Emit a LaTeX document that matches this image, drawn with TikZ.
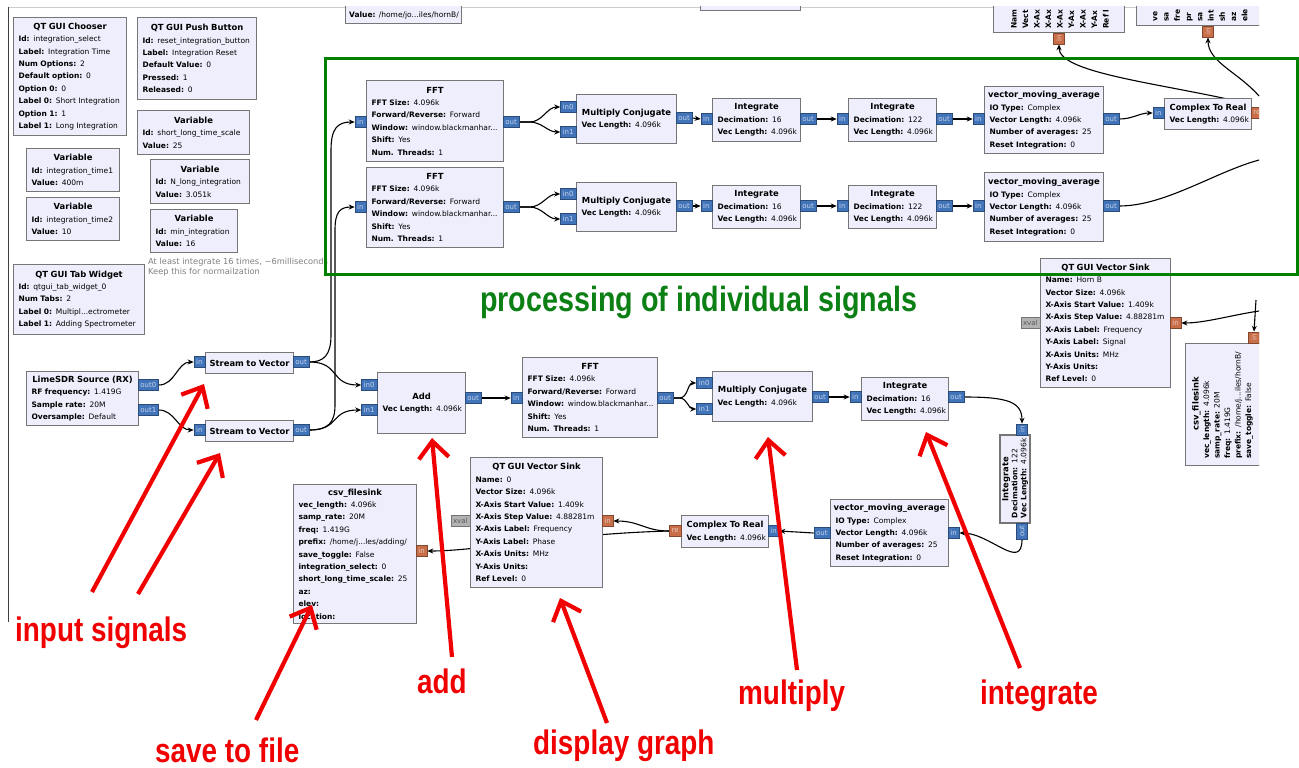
\documentclass[tikz,border=0pt]{standalone}
\usepackage{fontspec}
\setmainfont{DejaVu Sans}
\newfontfamily\notefont[FakeStretch=0.82]{Liberation Sans}
\usetikzlibrary{arrows.meta,backgrounds}

\definecolor{blkfill}{RGB}{238,238,252}
\definecolor{blkline}{RGB}{118,118,118}
\definecolor{portblue}{RGB}{66,116,186}
\definecolor{portorange}{RGB}{200,110,72}
\definecolor{portgray}{RGB}{178,178,178}
\definecolor{framegreen}{RGB}{0,130,0}
\definecolor{notegreen}{RGB}{12,128,20}
\definecolor{notered}{RGB}{240,0,0}
\definecolor{cmtgray}{RGB}{128,128,128}

\newcommand{\pfont}{\fontsize{7.5}{12.4}\selectfont}
\newcommand{\rfont}{\fontsize{7.5}{9}\selectfont}
\newcommand{\tfont}{\fontsize{8.4}{12.4}\selectfont\bfseries}
\newcommand{\ttl}[1]{\makebox[\linewidth][c]{\tfont #1}}
\newcommand{\kv}[2]{\mbox{\textbf{#1} #2}}

\pgfdeclarelayer{paper}
\pgfsetlayers{paper,background,main}

\begin{document}
\begin{tikzpicture}[x=1pt,y=-1pt,
    blk/.style={draw=blkline, fill=blkfill, line width=1.1pt, inner xsep=5pt, inner ysep=0pt,
      anchor=north west, align=left, font=\pfont},
    bw/.code={\pgfmathsetlengthmacro\bwtext{#1-10}%
      \edef\bwkeys{\noexpand\pgfkeysalso{minimum width=#1pt, text width=\bwtext}}\bwkeys},
    port/.style={fill=portblue, draw=portblue!65!black, line width=0.5pt, inner xsep=2.2pt,
      inner ysep=0pt, minimum height=11pt, text=white!70!portblue, font=\fontsize{7}{7}\selectfont},
    oport/.style={port, fill=portorange, draw=portorange!65!black, text=white!65!portorange},
    gport/.style={port, fill=portgray, draw=portgray!65!black, text=black!65},
    conn/.style={-{Stealth[length=6pt,width=5pt]}, line width=1.1pt},
    wire/.style={line width=1.1pt},
    note/.style={draw=notered, line width=4.2pt, -{Straight Barb[length=17pt,width=30pt]}},
    notelbl/.style={font=\notefont\bfseries\fontsize{34}{36}\selectfont, text=notered,
      inner sep=0pt, anchor=base west},
    cmt/.style={font=\fontsize{8.3}{10}\selectfont, text=cmtgray, align=left, inner sep=0pt, anchor=west}]

\useasboundingbox (0,0) rectangle (1299,768);
\begin{pgfonlayer}{paper}
  \fill[white] (0,0) rectangle (1299,768);
\end{pgfonlayer}

\begin{scope}
\clip (0,7) rectangle (1259,768);
\draw[black!20] (8,7) -- (1259,7);
\draw[black!75, line width=1pt] (8,7) -- (8,622);

% blocks cut by the top edge
\node[blk, minimum width=116pt, minimum height=40pt, anchor=south west] (valbox) at (345,24) {};
\node[font=\pfont, inner sep=0pt, anchor=base west] (valtxt) at (349,18) {\kv{Value:}{/home/jo...iles/hornB/}};
\node[blk, minimum width=100pt, minimum height=30pt, anchor=south west] (cutbox) at (700,11) {};
\node[blk, minimum width=131pt, minimum height=100pt, anchor=south west] (topA) at (993,33) {};
\node[rotate=90, anchor=north west, inner sep=0pt, align=left, font=\fontsize{7.5}{11.5}\selectfont\bfseries]
  (topAtxt) at (1011,29) {Nam\\Vect\\X-Ax\\X-Ax\\X-Ax\\Y-Ax\\X-Ax\\Y-Ax\\Ref l};
\node[oport, rotate=90, anchor=east] (topAin) at (1059,33) {in};
\node[blk, minimum width=160pt, minimum height=100pt, anchor=south west] (topB) at (1136,26) {};
\node[rotate=90, anchor=north west, inner sep=0pt, align=left, font=\fontsize{7.5}{11.25}\selectfont\bfseries]
  (topBtxt) at (1153,22) {ve\\sa\\fre\\pr\\sa\\int\\sh\\az\\ele};
\node[oport, rotate=90, anchor=east] (topBin) at (1208,26) {in};

% variables and gui widgets
\node[blk, bw=113, minimum height=118pt] (chooser) at (13,17) {\ttl{QT GUI Chooser}\\
  \kv{Id:}{integration\_select}\\ \kv{Label:}{Integration Time}\\ \kv{Num Options:}{2}\\
  \kv{Default option:}{0}\\ \kv{Option 0:}{0}\\ \kv{Label 0:}{Short Integration}\\
  \kv{Option 1:}{1}\\ \kv{Label 1:}{Long Integration}};
\node[blk, bw=119, minimum height=82pt] (pushbtn) at (137,17) {\ttl{QT GUI Push Button}\\
  \kv{Id:}{reset\_integration\_button}\\ \kv{Label:}{Integration Reset}\\
  \kv{Default Value:}{0}\\ \kv{Pressed:}{1}\\ \kv{Released:}{0}};
\node[blk, bw=112, minimum height=44pt] (varscale) at (137,110) {\ttl{Variable}\\
  \kv{Id:}{short\_long\_time\_scale}\\ \kv{Value:}{25}};
\node[blk, bw=93, minimum height=43pt] (vartimeA) at (26,148) {\ttl{Variable}\\
  \kv{Id:}{integration\_time1}\\ \kv{Value:}{400m}};
\node[blk, bw=93, minimum height=43pt] (vartimeB) at (26,197) {\ttl{Variable}\\
  \kv{Id:}{integration\_time2}\\ \kv{Value:}{10}};
\node[blk, bw=99, minimum height=44pt] (varnlong) at (150,159) {\ttl{Variable}\\
  \kv{Id:}{N\_long\_integration}\\ \kv{Value:}{3.051k}};
\node[blk, bw=87, minimum height=43pt] (varmin) at (150,209) {\ttl{Variable}\\
  \kv{Id:}{min\_integration}\\ \kv{Value:}{16}};
\node[cmt] (cmtnote) at (148,267) {At least integrate 16 times, \textasciitilde6milliseconds\\Keep this for normailzation};
\node[blk, bw=131, minimum height=70pt] (tabw) at (13,264) {\ttl{QT GUI Tab Widget}\\
  \kv{Id:}{qtgui\_tab\_widget\_0}\\ \kv{Num Tabs:}{2}\\
  \kv{Label 0:}{Multipl...ectrometer}\\ \kv{Label 1:}{Adding Spectrometer}};

% first signal chain
\node[blk, bw=137, minimum height=81pt] (fftA) at (366,80) {\ttl{FFT}\\
  \kv{FFT Size:}{4.096k}\\ \kv{Forward/Reverse:}{Forward}\\
  \kv{Window:}{window.blackmanhar...}\\ \kv{Shift:}{Yes}\\ \kv{Num. Threads:}{1}};
\node[port, anchor=east] (fftAin) at (366,122) {in};
\node[port, anchor=west] (fftAout) at (503,122) {out};
\node[blk, bw=100, minimum height=49pt] (mcA) at (576,94) {\ttl{Multiply Conjugate}\\ \kv{Vec Length:}{4.096k}};
\node[port, anchor=east] (mcAin0) at (576,107) {in0};
\node[port, anchor=east] (mcAin1) at (576,132) {in1};
\node[port, anchor=west] (mcAout) at (676,118) {out};
\node[blk, bw=88, minimum height=43pt] (intA1) at (712,98) {\ttl{Integrate}\\
  \kv{Decimation:}{16}\\ \kv{Vec Length:}{4.096k}};
\node[port, anchor=east] (intA1in) at (712,119) {in};
\node[port, anchor=west] (intA1out) at (800,119) {out};
\node[blk, bw=88, minimum height=43pt] (intA2) at (848,98) {\ttl{Integrate}\\
  \kv{Decimation:}{122}\\ \kv{Vec Length:}{4.096k}};
\node[port, anchor=east] (intA2in) at (848,119) {in};
\node[port, anchor=west] (intA2out) at (936,119) {out};
\node[blk, bw=119, minimum height=67pt] (vmaA) at (984,86) {\ttl{vector\_moving\_average}\\
  \kv{IO Type:}{Complex}\\ \kv{Vector Length:}{4.096k}\\
  \kv{Number of averages:}{25}\\ \kv{Reset Integration:}{0}};
\node[port, anchor=east] (vmaAin) at (984,119) {in};
\node[port, anchor=west] (vmaAout) at (1103,119) {out};
\node[blk, bw=87, minimum height=31pt] (ctrA) at (1164,98) {\ttl{Complex To Real}\\ \kv{Vec Length:}{4.096k}};
\node[port, anchor=east] (ctrAin) at (1164,113) {in};
\node[oport, anchor=west] (ctrAre) at (1251,113) {re};

% second signal chain
\node[blk, bw=137, minimum height=80pt] (fftB) at (366,167) {\ttl{FFT}\\
  \kv{FFT Size:}{4.096k}\\ \kv{Forward/Reverse:}{Forward}\\
  \kv{Window:}{window.blackmanhar...}\\ \kv{Shift:}{Yes}\\ \kv{Num. Threads:}{1}};
\node[port, anchor=east] (fftBin) at (366,207) {in};
\node[port, anchor=west] (fftBout) at (503,207) {out};
\node[blk, bw=100, minimum height=49pt] (mcB) at (576,182) {\ttl{Multiply Conjugate}\\ \kv{Vec Length:}{4.096k}};
\node[port, anchor=east] (mcBin0) at (576,194) {in0};
\node[port, anchor=east] (mcBin1) at (576,219) {in1};
\node[port, anchor=west] (mcBout) at (676,206) {out};
\node[blk, bw=88, minimum height=43pt] (intB1) at (712,185) {\ttl{Integrate}\\
  \kv{Decimation:}{16}\\ \kv{Vec Length:}{4.096k}};
\node[port, anchor=east] (intB1in) at (712,206) {in};
\node[port, anchor=west] (intB1out) at (800,206) {out};
\node[blk, bw=88, minimum height=43pt] (intB2) at (848,185) {\ttl{Integrate}\\
  \kv{Decimation:}{122}\\ \kv{Vec Length:}{4.096k}};
\node[port, anchor=east] (intB2in) at (848,206) {in};
\node[port, anchor=west] (intB2out) at (936,206) {out};
\node[blk, bw=119, minimum height=69pt] (vmaB) at (984,172) {\ttl{vector\_moving\_average}\\
  \kv{IO Type:}{Complex}\\ \kv{Vector Length:}{4.096k}\\
  \kv{Number of averages:}{25}\\ \kv{Reset Integration:}{0}};
\node[port, anchor=east] (vmaBin) at (984,206) {in};
\node[port, anchor=west] (vmaBout) at (1103,206) {out};

% source and adding chain
\node[blk, bw=112, minimum height=54pt] (lime) at (26,371) {\ttl{LimeSDR Source (RX)}\\
  \kv{RF frequency:}{1.419G}\\ \kv{Sample rate:}{20M}\\ \kv{Oversample:}{Default}};
\node[port, anchor=west] (limeout0) at (138,385) {out0};
\node[port, anchor=west] (limeout1) at (138,410) {out1};
\node[blk, bw=88, minimum height=21pt] (stvA) at (205,352) {\ttl{Stream to Vector}};
\node[port, anchor=east] (stvAin) at (205,362) {in};
\node[port, anchor=west] (stvAout) at (293,362) {out};
\node[blk, bw=88, minimum height=21pt] (stvB) at (205,420) {\ttl{Stream to Vector}};
\node[port, anchor=east] (stvBin) at (205,430) {in};
\node[port, anchor=west] (stvBout) at (293,430) {out};
\node[blk, bw=88, minimum height=61pt] (add) at (377,372) {\ttl{Add}\\ \kv{Vec Length:}{4.096k}};
\node[port, anchor=east] (addin0) at (377,385) {in0};
\node[port, anchor=east] (addin1) at (377,410) {in1};
\node[port, anchor=west] (addout) at (465,398) {out};
\node[blk, bw=135, minimum height=80pt] (fftC) at (522,357) {\ttl{FFT}\\
  \kv{FFT Size:}{4.096k}\\ \kv{Forward/Reverse:}{Forward}\\
  \kv{Window:}{window.blackmanhar...}\\ \kv{Shift:}{Yes}\\ \kv{Num. Threads:}{1}};
\node[port, anchor=east] (fftCin) at (522,398) {in};
\node[port, anchor=west] (fftCout) at (657,398) {out};
\node[blk, bw=100, minimum height=50pt] (mcC) at (712,371) {\ttl{Multiply Conjugate}\\ \kv{Vec Length:}{4.096k}};
\node[port, anchor=east] (mcCin0) at (712,383) {in0};
\node[port, anchor=east] (mcCin1) at (712,409) {in1};
\node[port, anchor=west] (mcCout) at (812,397) {out};
\node[blk, bw=87, minimum height=43pt] (intC) at (861,377) {\ttl{Integrate}\\
  \kv{Decimation:}{16}\\ \kv{Vec Length:}{4.096k}};
\node[port, anchor=east] (intCin) at (861,397) {in};
\node[port, anchor=west] (intCout) at (948,397) {out};
\node[blk, bw=88, minimum height=30pt, rotate=90, anchor=center, font=\rfont] (intV) at (1015,479)
  {\ttl{Integrate}\\ \kv{Decimation:}{122}\\ \kv{Vec Length:}{4.096k}};
\node[port, rotate=90, anchor=west] (intVin) at (1022,435) {in};
\node[port, rotate=90, anchor=east] (intVout) at (1022,523) {out};
\node[blk, bw=118, minimum height=67pt] (vmaC) at (830,499) {\ttl{vector\_moving\_average}\\
  \kv{IO Type:}{Complex}\\ \kv{Vector Length:}{4.096k}\\
  \kv{Number of averages:}{25}\\ \kv{Reset Integration:}{0}};
\node[port, anchor=west] (vmaCin) at (948,533) {in};
\node[port, anchor=east] (vmaCout) at (830,533) {out};
\node[blk, bw=87, minimum height=32pt] (ctrC) at (681,515) {\ttl{Complex To Real}\\ \kv{Vec Length:}{4.096k}};
\node[port, anchor=west] (ctrCin) at (768,531) {in};
\node[oport, anchor=east] (ctrCre) at (681,531) {re};
\node[blk, bw=132, minimum height=130pt] (sinkC) at (470,457) {\ttl{QT GUI Vector Sink}\\
  \kv{Name:}{0}\\ \kv{Vector Size:}{4.096k}\\ \kv{X-Axis Start Value:}{1.409k}\\
  \kv{X-Axis Step Value:}{4.88281m}\\ \kv{X-Axis Label:}{Frequency}\\ \kv{Y-Axis Label:}{Phase}\\
  \kv{X-Axis Units:}{MHz}\\ \kv{Y-Axis Units:}{}\\ \kv{Ref Level:}{0}};
\node[oport, anchor=west] (sinkCin) at (602,521) {in};
\node[gport, anchor=east] (sinkCx) at (470,521) {xval};
\node[blk, bw=123, minimum height=139pt] (csvC) at (293,484) {\ttl{csv\_filesink}\\
  \kv{vec\_length:}{4.096k}\\ \kv{samp\_rate:}{20M}\\ \kv{freq:}{1.419G}\\
  \kv{prefix:}{/home/j...les/adding/}\\ \kv{save\_toggle:}{False}\\ \kv{integration\_select:}{0}\\
  \kv{short\_long\_time\_scale:}{25}\\ \kv{az:}{}\\ \kv{elev:}{}\\ \kv{location:}{}};
\node[oport, anchor=west] (csvCin) at (416,551) {in};

% sinks of the second antenna
\node[blk, bw=130, minimum height=129pt] (sinkB) at (1040,258) {\ttl{QT GUI Vector Sink}\\
  \kv{Name:}{Horn B}\\ \kv{Vector Size:}{4.096k}\\ \kv{X-Axis Start Value:}{1.409k}\\
  \kv{X-Axis Step Value:}{4.88281m}\\ \kv{X-Axis Label:}{Frequency}\\ \kv{Y-Axis Label:}{Signal}\\
  \kv{X-Axis Units:}{MHz}\\ \kv{Y-Axis Units:}{}\\ \kv{Ref Level:}{0}};
\node[oport, anchor=west] (sinkBin) at (1170,323) {in};
\node[gport, anchor=east] (sinkBx) at (1040,323) {xval};
\node[blk, minimum width=150pt, minimum height=122pt] (csvR) at (1185,343) {};
\node[rotate=90, anchor=north west, inner sep=0pt, text width=110pt, align=left, font=\fontsize{7.5}{10.5}\selectfont]
  (csvRtxt) at (1192,459) {\ttl{csv\_filesink}\\ \kv{vec\_length:}{4.096k}\\ \kv{samp\_rate:}{20M}\\
  \kv{freq:}{1.419G}\\ \kv{prefix:}{/home/j...iles/hornB/}\\ \kv{save\_toggle:}{False}};
\node[oport, rotate=90, anchor=west] (csvRin) at (1254,343) {in};

\coordinate (behindA) at (1232,100);
\coordinate (exitA) at (1259,96);
\coordinate (exitB) at (1259,160);
\coordinate (exitR) at (1259,311);
\coordinate (exitR2) at (1256,300);

\begin{scope}[on background layer]
\draw[conn] (fftAout.east) -- ++(10,0) to[out=0,in=180] (mcAin0.west);
\draw[conn] (fftAout.east) -- ++(10,0) to[out=0,in=180] (mcAin1.west);
\draw[conn] (mcAout.east) -- (intA1in.west);
\draw[conn] (intA1out.east) -- (intA2in.west);
\draw[conn] (intA2out.east) -- (vmaAin.west);
\draw[conn] (vmaAout.east) to[out=0,in=180] (ctrAin.west);
\draw[conn] (fftBout.east) -- ++(10,0) to[out=0,in=180] (mcBin0.west);
\draw[conn] (fftBout.east) -- ++(10,0) to[out=0,in=180] (mcBin1.west);
\draw[conn] (mcBout.east) -- (intB1in.west);
\draw[conn] (intB1out.east) -- (intB2in.west);
\draw[conn] (intB2out.east) -- (vmaBin.west);
\draw[wire] (vmaBout.east) .. controls (1165,206) and (1215,172) .. (exitB);
\draw[conn] (behindA) .. controls (1150,82) and (1059,72) .. (topAin.west);
\draw[conn] (exitA) .. controls (1238,72) and (1208,62) .. (topBin.west);
\draw[conn] (limeout0.east) to[out=0,in=180] (stvAin.west);
\draw[conn] (limeout1.east) to[out=0,in=180] (stvBin.west);
\draw[conn] (stvAout.east) .. controls (324,362) and (331,355) .. (331,335) -- (331,150)
  .. controls (331,128) and (338,122) .. (fftAin.west);
\draw[conn] (stvBout.east) .. controls (328,430) and (335,423) .. (335,405) -- (335,230)
  .. controls (335,212) and (340,207) .. (fftBin.west);
\draw[conn] (stvAout.east) .. controls (340,362) and (330,385) .. (addin0.west);
\draw[conn] (stvBout.east) .. controls (340,430) and (330,410) .. (addin1.west);
\draw[conn] (addout.east) -- (fftCin.west);
\draw[conn] (fftCout.east) -- ++(6,0) to[out=0,in=180] (mcCin0.west);
\draw[conn] (fftCout.east) -- ++(6,0) to[out=0,in=180] (mcCin1.west);
\draw[conn] (mcCout.east) -- (intCin.west);
\draw[conn] (intCout.east) .. controls (1008,397) and (1022,402) .. (intVin.east);
\draw[conn] (intVout.west) .. controls (1022,572) and (990,533) .. (vmaCin.east);
\draw[conn] (vmaCout.west) -- (ctrCin.east);
\draw[conn] (ctrCre.west) .. controls (645,531) and (640,521) .. (sinkCin.east);
\draw[conn] (ctrCre.west) .. controls (560,534) and (480,551) .. (csvCin.east);
\draw[conn] (exitR) .. controls (1232,315) and (1205,323) .. (sinkBin.east);
\draw[conn] (exitR2) -- (csvRin.east);
\end{scope}
\end{scope}

% box round the two single chains
\node[draw=framegreen, line width=3pt, minimum width=972pt, minimum height=216pt, anchor=north west,
  inner sep=0pt] (procframe) at (324,57) {};
\node[notelbl, text=notegreen, font=\notefont\bfseries\fontsize{35}{36}\selectfont] (lblproc) at (480,311)
  {processing of individual signals};

% red notes
\node[notelbl] (lblinput) at (15,641) {input signals};
\node[notelbl] (lbladd) at (417,693) {add};
\node[notelbl] (lblsave) at (155,762) {save to file};
\node[notelbl] (lbldisp) at (533,754) {display graph};
\node[notelbl] (lblmult) at (738,704) {multiply};
\node[notelbl] (lblint) at (980,704) {integrate};
\coordinate (tailinA) at (92,592);   \coordinate (tipinA) at (204,384);
\coordinate (tailinB) at (138,594);  \coordinate (tipinB) at (220,453);
\coordinate (tailadd) at (452,657);  \coordinate (tipadd) at (432,438);
\coordinate (tailsave) at (256,720); \coordinate (tipsave) at (312,605);
\coordinate (taildisp) at (607,723); \coordinate (tipdisp) at (560,598);
\coordinate (tailmult) at (797,670); \coordinate (tipmult) at (768,437);
\coordinate (tailint) at (1020,668); \coordinate (tipint) at (926,432);
\draw[note] (tailinA) -- (tipinA);
\draw[note] (tailinB) -- (tipinB);
\draw[note] (tailadd) -- (tipadd);
\draw[note] (tailsave) -- (tipsave);
\draw[note] (taildisp) -- (tipdisp);
\draw[note] (tailmult) -- (tipmult);
\draw[note] (tailint) -- (tipint);
\end{tikzpicture}
\end{document}
